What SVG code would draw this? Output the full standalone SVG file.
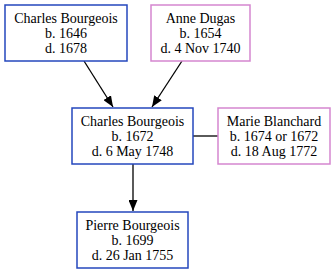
<svg xmlns="http://www.w3.org/2000/svg" width="336" height="274" viewBox="0 0 336 274">
  <style>
    .m { fill: #ffffff; stroke: #2447bd; stroke-width: 1.5; }
    .f { fill: #ffffff; stroke: #d586cf; stroke-width: 1.5; }
    text { font-family: "Liberation Serif", "Times New Roman", serif; font-size: 14px; fill: #000000; text-anchor: middle; }
    .e { stroke: #000000; stroke-width: 1.3; fill: none; }
  </style>
  <defs>
    <marker id="arrow" viewBox="0 0 11 9" refX="11" refY="4.5" markerWidth="11" markerHeight="9" markerUnits="userSpaceOnUse" orient="auto">
      <path d="M0,0 L11,4.5 L0,9 Z" fill="#000000"/>
    </marker>
  </defs>
  <rect width="336" height="274" fill="#ffffff"/>

  <g id="connectors">
    <line class="e" x1="84" y1="61" x2="113" y2="107" marker-end="url(#arrow)"/>
    <line class="e" x1="182" y1="61" x2="152" y2="107" marker-end="url(#arrow)"/>
    <line class="e" x1="193" y1="136" x2="218" y2="136"/>
    <line class="e" x1="133" y1="164" x2="133" y2="211" marker-end="url(#arrow)"/>
  </g>

  <g id="charles-1646">
    <rect class="m" x="5" y="5" width="122" height="56"/>
    <text x="66" y="23">Charles Bourgeois</text>
    <text x="66" y="38">b. 1646</text>
    <text x="66" y="53">d. 1678</text>
  </g>

  <g id="anne-dugas">
    <rect class="f" x="151" y="5" width="99" height="56"/>
    <text x="200.5" y="23">Anne Dugas</text>
    <text x="200.5" y="38">b. 1654</text>
    <text x="200.5" y="53">d. 4 Nov 1740</text>
  </g>

  <g id="charles-1672">
    <rect class="m" x="72" y="108" width="121" height="56"/>
    <text x="132.5" y="126">Charles Bourgeois</text>
    <text x="132.5" y="141">b. 1672</text>
    <text x="132.5" y="156">d. 6 May 1748</text>
  </g>

  <g id="marie-blanchard">
    <rect class="f" x="218" y="108" width="112" height="56"/>
    <text x="274" y="126">Marie Blanchard</text>
    <text x="274" y="141">b. 1674 or 1672</text>
    <text x="274" y="156">d. 18 Aug 1772</text>
  </g>

  <g id="pierre-bourgeois">
    <rect class="m" x="77" y="212" width="111" height="56"/>
    <text x="132.5" y="230">Pierre Bourgeois</text>
    <text x="132.5" y="245">b. 1699</text>
    <text x="132.5" y="260">d. 26 Jan 1755</text>
  </g>
</svg>
